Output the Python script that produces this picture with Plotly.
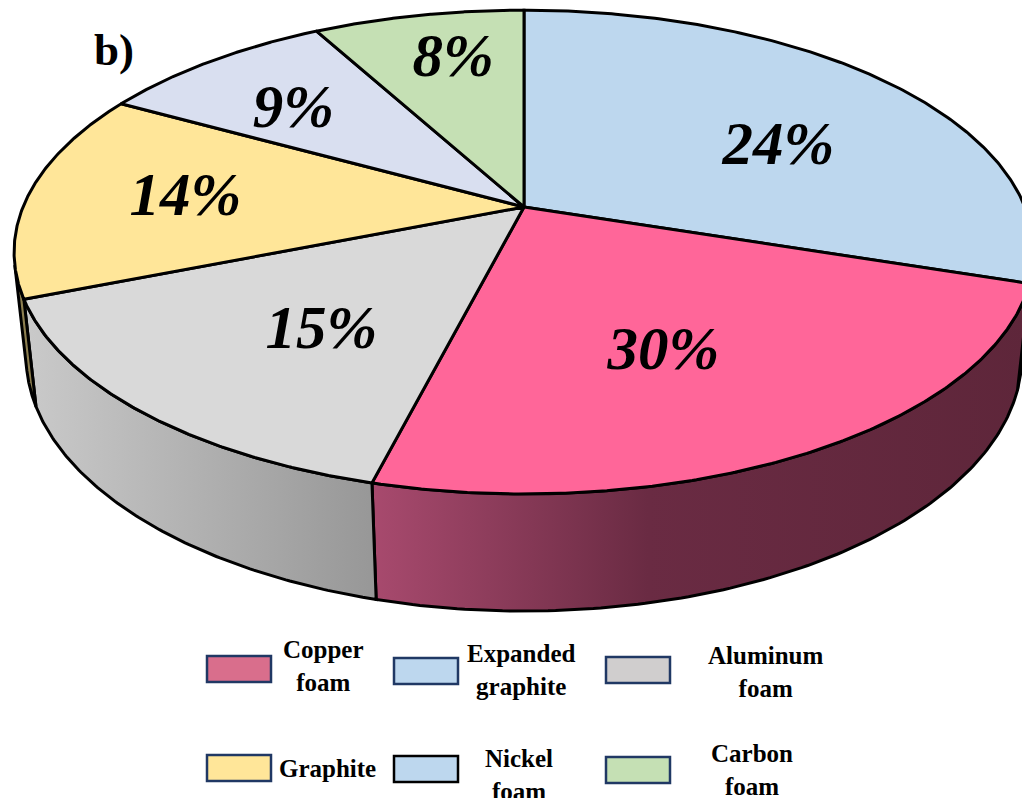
import numpy as np
import plotly.graph_objects as go

# ---------------- data (clockwise from 12 o'clock, as drawn) ----------------
categories = ["Expanded graphite", "Copper foam", "Aluminum foam", "Graphite", "Nickel foam", "Carbon foam"]
slice_share = [30, 24, 15, 14, 9, 8]          # angular share of each slice as drawn
printed_percent = [24, 30, 15, 14, 9, 8]      # percentage printed on each slice

legend_names = ["Copper<br>foam", "Expanded<br>graphite", "Aluminum<br>foam",
                "Graphite", "Nickel<br>foam", "Carbon<br>foam"]

# ---------------- styles ----------------
top_colors = ["#BDD7EE", "#FF6699", "#D9D9D9", "#FFE699", "#D9DFF0", "#C5E0B4"]
side_scales = [
    [[0, "#5F7E9B"], [1, "#5F7E9B"]],
    [[0, "#A84A6E"], [0.42, "#6A2B43"], [1, "#5E263A"]],
    [[0, "#CACACA"], [1, "#979797"]],
    [[0, "#8D7F50"], [1, "#8D7F50"]],
    [[0, "#8A90A8"], [1, "#8A90A8"]],
    [[0, "#7E9A6E"], [1, "#7E9A6E"]],
]
label_shift = [-8.1, -4.2, 3.3, -0.7, 2.0, -2.1]   # degrees
label_radius = [0.605, 0.600, 0.598, 0.684, 0.684, 0.755]
label_dy = 5.0

legend_fill = ["#D96E8C", "#BDD7EE", "#D0CECE", "#FFE699", "#BDD7EE", "#C5E0B4"]
legend_border = ["#203864", "#203864", "#203864", "#203864", "#000000", "#203864"]
legend_box_x = [207, 394, 606, 207, 394, 606]
legend_box_y = [656, 658, 657, 755, 756, 757]
legend_text_x = [323, 521, 765, 327, 519, 752]
legend_text_y = [666, 670, 672, 768, 775, 770]

# page offset of the plot (browser body margin)
OFF = 8

# ---------------- projection of a tilted cylinder ----------------
F, S, C, D = 501.0, 0.466, 0.885, 4.75
CX, CY = 524.0, 207.0
H = 0.236


def proj(X, Y, Z):
    den = 1 + (Y * C - Z * S) / D
    return CX + F * X / den, CY - F * (Y * S + Z * C) / den


sil = np.degrees(np.arcsin(1.0 / (D * C)))
vis_lo, vis_hi = -180 + sil, -sil

fig = go.Figure()

angles = []
start = 90.0
for share in slice_share:
    a0 = start
    a1 = start - 360.0 * share / 100.0
    angles.append((a0, a1))
    start = a1

# side walls
for i, (a0, a1) in enumerate(angles):
    hi = min(a0, vis_hi)
    lo = max(a1, vis_lo)
    if hi <= lo:
        continue
    t = np.radians(np.linspace(hi, lo, 120))
    xt, yt = proj(np.cos(t), np.sin(t), 0.0)
    xb, yb = proj(np.cos(t), np.sin(t), -H)
    xs = np.concatenate([xt, xb[::-1], xt[:1]])
    ys = np.concatenate([yt, yb[::-1], yt[:1]])
    fig.add_trace(go.Scatter(
        x=xs, y=ys, mode="lines", fill="toself",
        fillgradient=dict(type="horizontal", colorscale=side_scales[i]),
        line=dict(color="black", width=3), hoverinfo="skip", showlegend=False))

# top faces
for i, (a0, a1) in enumerate(angles):
    t = np.radians(np.linspace(a0, a1, 200))
    xa, ya = proj(np.cos(t), np.sin(t), 0.0)
    ox, oy = proj(0.0, 0.0, 0.0)
    xs = np.concatenate([[ox], xa, [ox]])
    ys = np.concatenate([[oy], ya, [oy]])
    fig.add_trace(go.Scatter(
        x=xs, y=ys, mode="lines", fill="toself", fillcolor=top_colors[i],
        line=dict(color="black", width=3), name=categories[i],
        hoverinfo="skip", showlegend=False))

# labels
lx, ly = [], []
for i, (a0, a1) in enumerate(angles):
    m = np.radians((a0 + a1) / 2 + label_shift[i])
    x, y = proj(label_radius[i] * np.cos(m), label_radius[i] * np.sin(m), 0.0)
    lx.append(x)
    ly.append(y + label_dy)
fig.add_trace(go.Scatter(
    x=lx, y=ly, mode="text", text=[f"{v}%" for v in printed_percent],
    textposition="middle center",
    textfont=dict(family="Liberation Serif", size=61, color="black",
                  weight="bold", style="italic"),
    hoverinfo="skip", showlegend=False))

# legend
shapes = []
annotations = []
for i, name in enumerate(legend_names):
    shapes.append(dict(type="rect", xref="x", yref="y",
                       x0=legend_box_x[i], x1=legend_box_x[i] + 64,
                       y0=legend_box_y[i], y1=legend_box_y[i] + 26,
                       fillcolor=legend_fill[i],
                       line=dict(color=legend_border[i], width=2.5)))
    annotations.append(dict(x=legend_text_x[i], y=legend_text_y[i], xref="x", yref="y",
                            text=name, showarrow=False, align="center",
                            xanchor="center", yanchor="middle",
                            font=dict(family="Liberation Serif", size=25,
                                      color="black", weight="bold")))

annotations.append(dict(x=92, y=50, xref="x", yref="y", text="b)", showarrow=False,
                        xanchor="left", yanchor="middle",
                        font=dict(family="Liberation Serif", size=45, color="black",
                                  weight="bold")))

fig.update_layout(
    width=1030 - OFF, height=798 - OFF,
    margin=dict(l=0, r=0, t=0, b=0),
    paper_bgcolor="white", plot_bgcolor="white",
    xaxis=dict(range=[OFF, 1030], visible=False, fixedrange=True),
    yaxis=dict(range=[798, OFF], visible=False, fixedrange=True),
    shapes=shapes, annotations=annotations,
    hovermode=False,
)

fig.write_html("out.html")
